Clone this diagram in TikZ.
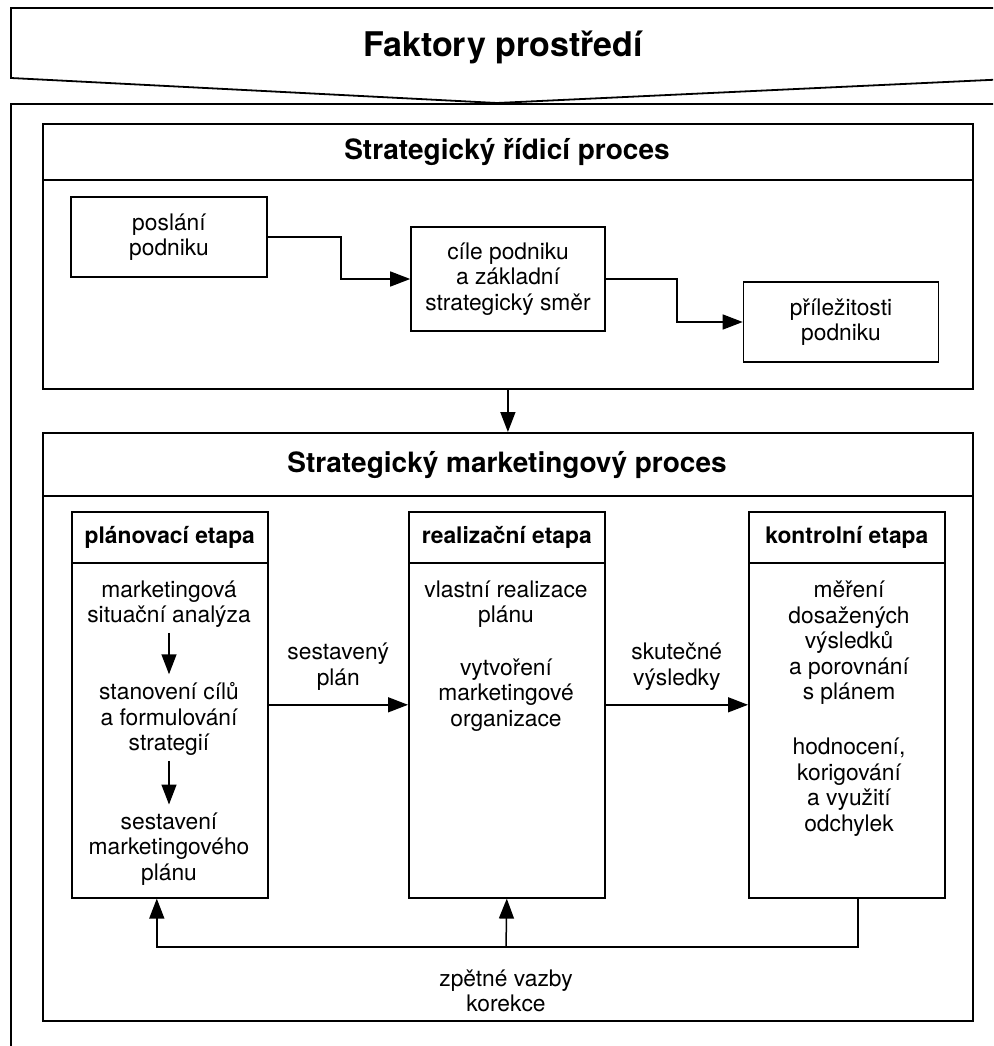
\documentclass[tikz,border=0pt]{standalone}
\usepackage{fontspec}
\setmainfont{TeX Gyre Heros}
\usetikzlibrary{arrows.meta,positioning,calc}
\newcommand{\txtbody}{\fontsize{22.8}{25.5}\selectfont}
\newcommand{\txthead}{\fontsize{28}{32}\selectfont\bfseries}
\newcommand{\txttitle}{\fontsize{34}{40}\selectfont\bfseries}

\begin{document}
\begin{tikzpicture}[x=1pt,y=-1pt,
  every node/.style={font=\txtbody, align=center, inner sep=0pt},
  frame/.style={draw, line width=1.8pt},
  panel/.style={frame, anchor=north west, minimum width=930pt},
  goalbox/.style={draw, line width=1.6pt, minimum width=196pt},
  stagebox/.style={draw, line width=1.6pt, anchor=north west, minimum width=196pt, minimum height=386pt},
  arr/.style={line width=1.5pt, -{Triangle[length=20pt,width=15pt]}}]
  \useasboundingbox (0,0) rectangle (993,1046);
  \clip (0,0) rectangle (993,1046);
  \draw[frame] (1010,8) -- (11,8) -- (11,78) -- (497,103) -- (1010,79);
  \node[font=\txttitle] (env) at (503,47) {Faktory prostředí};
  \draw[frame] (1010,104) -- (11,104) -- (11,1060);

  \node[panel, minimum height=265pt] (srp) at (42,123) {};
  \draw[frame] (srp.north west) ++(0,57) -- ++(930,0);
  \node[font=\txthead] (srptitle) at (507,152) {Strategický řídicí proces};
  \node[goalbox, minimum height=80pt] (mise) at (169,237) {poslání\\podniku};
  \node[goalbox, minimum height=104pt, minimum width=194pt] (cile) at (508,279) {cíle podniku\\a základní\\strategický směr};
  \node[goalbox, minimum height=80pt, minimum width=195pt] (prilez) at (841,322) {příležitosti\\podniku};
  \draw[arr] (mise.east) -- ++(73,0) |- (cile.west);
  \draw[arr] (cile.east) -- ++(71,0) |- (prilez.west);

  \node[panel, minimum height=588pt] (smp) at (42,432) {};
  \draw[arr] (srp.south) -- (smp.north);
  \draw[frame] (smp.north west) ++(0,64) -- ++(930,0);
  \node[font=\txthead] (smptitle) at (507,465) {Strategický marketingový proces};

  \foreach \x/\nm/\ttl in {71/plan/plánovací etapa, 408/real/realizační etapa, 748/kontr/kontrolní etapa} {
    \node[stagebox] (\nm) at (\x,511) {};
    \draw[line width=1.6pt] (\nm.north west) ++(0,52) -- ++(196,0);
    \node[font=\txtbody\bfseries] (\nm head) at ($(\nm.north)+(0,26)$) {\ttl};
  }

  \node (plan1) at (169,604) {marketingová\\situační analýza};
  \node (plan2) at (169,719) {stanovení cílů\\a formulování\\strategií};
  \node (plan3) at (169,849) {sestavení\\marketingového\\plánu};
  \draw[arr, shorten <=5pt, shorten >=8pt] (plan1) -- (plan2);
  \draw[arr, shorten <=5pt, shorten >=8pt] (plan2) -- (plan3);

  \node (real1) at (506,604) {vlastní realizace\\plánu};
  \node (real2) at (506,695) {vytvoření\\marketingové\\organizace};
  \node (kontr1) at (849,643) {měření\\dosažených\\výsledků\\a porovnání\\s plánem};
  \node (kontr2) at (849,787) {hodnocení,\\korigování\\a využití\\odchylek};

  \draw[arr] (plan.east) -- (real.west) node[midway, above=14pt] (plantxt) {sestavený\\plán};
  \draw[arr] (real.east) -- (kontr.west) node[midway, above=14pt] (resulttxt) {skutečné\\výsledky};

  \coordinate (fb) at (506,947);
  \draw[arr] ([xshift=11pt]kontr.south) |- (fb) -| ([xshift=-13pt]plan.south);
  \draw[arr] (fb) -- (real.south);
  \node (fbtxt) at (506,991) {zpětné vazby\\korekce};
\end{tikzpicture}
\end{document}
